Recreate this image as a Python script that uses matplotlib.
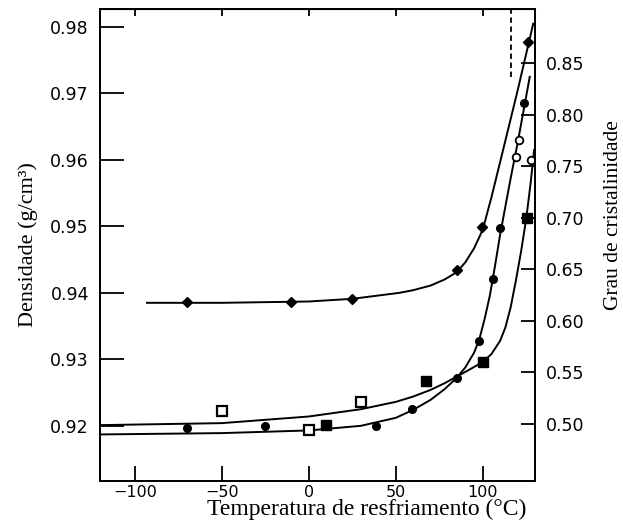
import matplotlib
matplotlib.use("Agg")
import matplotlib.pyplot as plt

# curvas (temperatura em C, densidade g/cm3)
curva_a_x = [-93, -50, 0, 25, 52, 60, 70, 78, 85, 90, 95, 100, 105, 110, 120, 129]
curva_a_y = [0.9385, 0.9385, 0.9387, 0.9391, 0.9400, 0.9404, 0.9411, 0.9420, 0.9431, 0.9446, 0.9467, 0.9495,
             0.9544, 0.9597, 0.9704, 0.9805]

curva_b_x = [-120, -50, 0, 30, 50, 60, 70, 78, 85, 90, 95, 98, 101, 104, 107, 110, 113, 116, 120, 124, 127]
curva_b_y = [0.9187, 0.9189, 0.9193, 0.9200, 0.9212, 0.9224, 0.9239, 0.9255, 0.9272, 0.9288, 0.9310, 0.9330,
             0.9360, 0.9395, 0.9440, 0.9488, 0.9530, 0.9572, 0.9625, 0.9682, 0.9725]

curva_c_x = [-120, -50, 0, 30, 50, 60, 70, 78, 85, 92, 100, 105, 110, 113, 116, 119, 122, 125, 127.5, 129.5]
curva_c_y = [0.9201, 0.9204, 0.9214, 0.9225, 0.9236, 0.9244, 0.9254, 0.9264, 0.9274, 0.9284, 0.9296, 0.9308,
             0.9328, 0.9348, 0.9378, 0.9418, 0.9462, 0.9512, 0.9565, 0.9615]

# pontos medidos
losango_x = [-70, -10, 25, 85, 99.5, 126]
losango_y = [0.9386, 0.9386, 0.9391, 0.9435, 0.9499, 0.9777]

circ_x = [-70, -25, 38.7, 59.5, 85, 97.7, 106, 110, 123.7]
circ_y = [0.9197, 0.9200, 0.9199, 0.9226, 0.9272, 0.9328, 0.9421, 0.9498, 0.9686]

circ_aberto_x = [119, 120.8, 128]
circ_aberto_y = [0.9605, 0.9630, 0.9600]

quad_aberto_x = [-50, 0, 30]
quad_aberto_y = [0.9223, 0.9193, 0.9236]

quad_cheio_x = [10, 67.6, 100, 125.4]
quad_cheio_y = [0.9201, 0.9268, 0.9296, 0.9513]

x_ticks = [-100, -50, 0, 50, 100]
dens_ticks = [0.92, 0.93, 0.94, 0.95, 0.96, 0.97, 0.98]
cris_ticks = [0.50, 0.55, 0.60, 0.65, 0.70, 0.75, 0.80, 0.85]

fig = plt.figure(figsize=(6.23, 5.26), dpi=100)
ax = fig.add_axes([0.1605, 0.0856, 0.6982, 0.8973])

ax.plot(curva_a_x, curva_a_y, color='black', lw=1.4)
ax.plot(curva_b_x, curva_b_y, color='black', lw=1.4)
ax.plot(curva_c_x, curva_c_y, color='black', lw=1.4)

ax.plot(losango_x, losango_y, 'D', color='black', ms=5.5, ls='none')
ax.plot(circ_x, circ_y, 'o', color='black', ms=5.5, ls='none')
ax.plot(circ_aberto_x, circ_aberto_y, 'o', mfc='white', mec='black', mew=1.3, ms=5.5, ls='none')
ax.plot(quad_aberto_x, quad_aberto_y, 's', mfc='white', mec='black', mew=1.6, ms=7, ls='none')
ax.plot(quad_cheio_x, quad_cheio_y, 's', color='black', ms=7, ls='none')

# linha tracejada no topo
ax.plot([116, 116], [0.9724, 0.9827], color='black', lw=1.3, ls=(0, (3, 2)))

ax.set_xlim(-120, 130)
ax.set_ylim(0.9117, 0.9827)
ax.set_xticks(x_ticks)
ax.set_xticklabels(['\u2212100', '\u221250', '0', '50', '100'])
ax.set_yticks(dens_ticks)
ax.set_yticklabels(['%.2f' % v for v in dens_ticks])
ax.tick_params(axis='x', direction='in', length=11, width=1.3, pad=3, labelsize=11.5)
ax.tick_params(axis='y', direction='in', length=17, width=1.3, pad=8, labelsize=12.5)
for lab in ax.get_xticklabels() + ax.get_yticklabels():
    lab.set_family('DejaVu Sans')

topo = ax.secondary_xaxis('top')
topo.set_xticks(x_ticks)
topo.tick_params(direction='in', length=5, width=1.3, labeltop=False)

ax2 = ax.twinx()
ax2.set_ylim(0.4447, 0.9024)
ax2.set_yticks(cris_ticks)
ax2.set_yticklabels(['%.2f' % v for v in cris_ticks])
ax2.tick_params(axis='y', direction='in', length=10, width=1.3, pad=8, labelsize=12.5)
for lab in ax2.get_yticklabels():
    lab.set_family('DejaVu Sans')

for a in (ax, ax2):
    for s in a.spines.values():
        s.set_linewidth(1.3)

ax.set_xlabel('Temperatura de resfriamento (\u00b0C)', family='Liberation Serif', fontsize=17)
ax.xaxis.set_label_coords(0.614, -0.038, transform=ax.transAxes)
ax.xaxis.label.set_va('top')
ax.set_ylabel('Densidade (g/cm\u00b3)', family='Liberation Serif', fontsize=16)
ax.yaxis.set_label_coords(-0.142, 0.5)
ax2.set_ylabel('Grau de cristalinidade', family='Liberation Serif', fontsize=15.5)
ax2.yaxis.set_label_coords(1.158, 0.564)

fig.savefig('out.png', dpi=100)
